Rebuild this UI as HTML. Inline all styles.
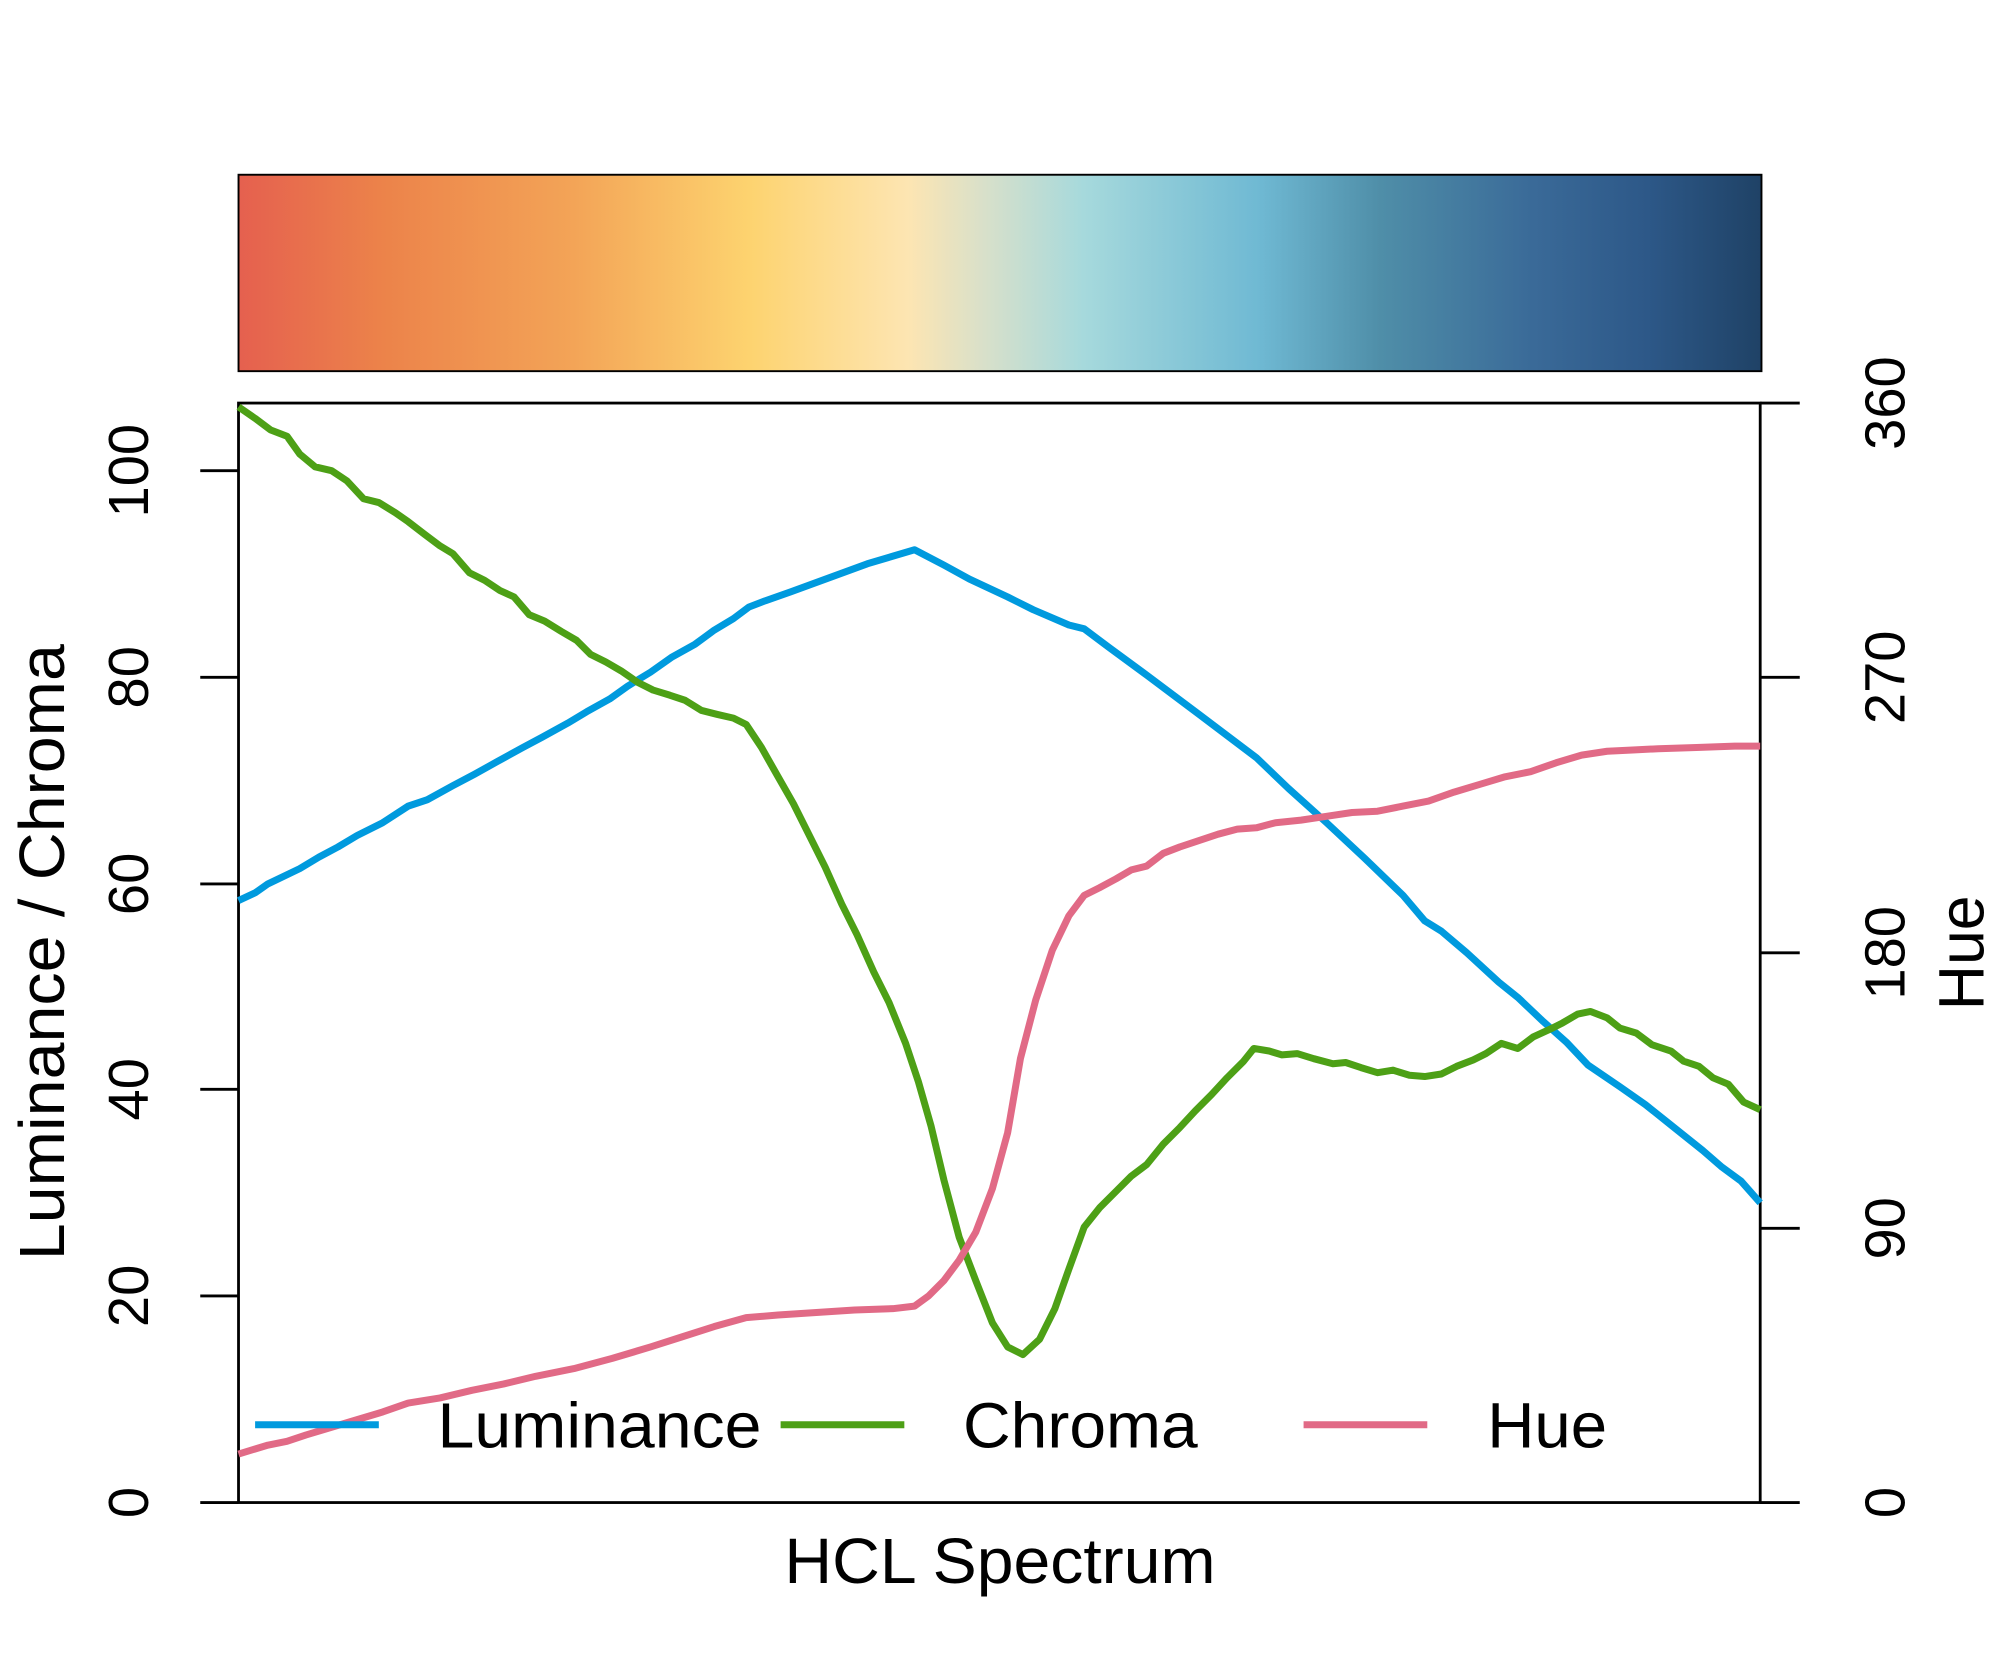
<!DOCTYPE html>
<html><head><meta charset="utf-8"><style>html,body{margin:0;padding:0;background:#fff}svg{display:block}</style></head>
<body>
<svg width="2000" height="1680" viewBox="0 0 1568 1317.12" xmlns="http://www.w3.org/2000/svg" font-family="Liberation Sans, sans-serif">
<defs>
<linearGradient id="g" x1="0" x2="1" y1="0" y2="0">
<stop offset="0" stop-color="#E5604F"/>
<stop offset="0.095" stop-color="#EC834A"/>
<stop offset="0.22" stop-color="#F3A457"/>
<stop offset="0.335" stop-color="#FDD36F"/>
<stop offset="0.44" stop-color="#FDE5B2"/>
<stop offset="0.49" stop-color="#D8E0CA"/>
<stop offset="0.555" stop-color="#A6D9DC"/>
<stop offset="0.67" stop-color="#6FB9D3"/>
<stop offset="0.75" stop-color="#4F8EA8"/>
<stop offset="0.85" stop-color="#3A6A98"/>
<stop offset="0.925" stop-color="#2D5888"/>
<stop offset="1" stop-color="#1F4266"/>
</linearGradient>
</defs>
<rect x="187" y="137" width="1194" height="154" fill="url(#g)" stroke="#000" stroke-width="1.5"/>
<rect x="187" y="316" width="1193" height="862" fill="none" stroke="#000" stroke-width="2.2"/>
<g stroke="#000" stroke-width="2.2">
<line x1="157" y1="1178" x2="187" y2="1178"/><line x1="157" y1="1016" x2="187" y2="1016"/><line x1="157" y1="854" x2="187" y2="854"/><line x1="157" y1="693" x2="187" y2="693"/><line x1="157" y1="531" x2="187" y2="531"/><line x1="157" y1="369" x2="187" y2="369"/>
<line x1="1380" y1="1178" x2="1411" y2="1178"/><line x1="1380" y1="963" x2="1411" y2="963"/><line x1="1380" y1="747" x2="1411" y2="747"/><line x1="1380" y1="531" x2="1411" y2="531"/><line x1="1380" y1="316" x2="1411" y2="316"/>
</g>
<g font-size="44" text-anchor="middle" fill="#000">
<text transform="translate(116,1178) rotate(-90)">0</text>
<text transform="translate(116,1016) rotate(-90)">20</text>
<text transform="translate(116,854) rotate(-90)">40</text>
<text transform="translate(116,693) rotate(-90)">60</text>
<text transform="translate(116,531) rotate(-90)">80</text>
<text transform="translate(116,369) rotate(-90)">100</text>
<text transform="translate(1493,1178) rotate(-90)">0</text>
<text transform="translate(1493,963) rotate(-90)">90</text>
<text transform="translate(1493,747) rotate(-90)">180</text>
<text transform="translate(1493,531) rotate(-90)">270</text>
<text transform="translate(1493,316) rotate(-90)">360</text>
</g>
<g font-size="50" fill="#000">
<text transform="translate(50,988) rotate(-90)" textLength="483" lengthAdjust="spacingAndGlyphs">Luminance / Chroma</text>
<text transform="translate(1555,792) rotate(-90)" textLength="90" lengthAdjust="spacingAndGlyphs">Hue</text>
<text x="615" y="1241" textLength="338" lengthAdjust="spacingAndGlyphs">HCL Spectrum</text>
<text x="343" y="1135" textLength="254" lengthAdjust="spacingAndGlyphs">Luminance</text>
<text x="755" y="1135" textLength="184" lengthAdjust="spacingAndGlyphs">Chroma</text>
<text x="1166" y="1135" textLength="94" lengthAdjust="spacingAndGlyphs">Hue</text>
</g>
<g fill="none" stroke-width="5.5" stroke-linejoin="round">
<polyline stroke="#009ADE" points="187,706 200,700 210,693 235,681 250,672 265,664 280,655 300,645 320,632 335,627 355,616 372,607 390,597 410,586 425,578 445,567 460,558 478,548 492,538 510,527 527,515 545,505 560,494 575,485 587,476 600,471 620,464 650,453 680,442 717,431 740,443 760,454 790,468 810,478 838,490 850,493 870,508 900,530 940,560 985,594 1010,618 1040,645 1070,673 1100,702 1117,722 1130,730 1150,747 1175,770 1190,782 1210,801 1228,817 1245,835 1270,852 1290,866 1310,882 1335,902 1350,915 1365,926 1380,943"/>
<polyline stroke="#4DA016" points="187,319 200,328 212,337 225,342 235,356 247,366 260,369 272,377 285,391 297,394 310,402 320,409 333,419 345,428 355,434 368,449 380,455 392,463 403,468 415,482 427,487 440,495 452,502 463,513 475,519 487,526 500,535 512,541 525,545 537,549 550,557 562,560 575,563 585,568 597,586 610,609 622,630 635,656 647,680 660,709 672,733 685,762 697,786 710,818 720,848 730,883 740,925 752,970 765,1004 778,1037 790,1056 802,1062 815,1050 827,1026 838,995 850,962 862,947 875,934 887,922 899,913 912,897 925,884 937,871 950,858 962,845 975,832 983,822 995,824 1005,827 1017,826 1030,830 1045,834 1055,833 1067,837 1080,841 1092,839 1105,843 1117,844 1130,842 1142,836 1155,831 1165,826 1177,818 1190,822 1202,813 1215,807 1225,802 1237,795 1247,793 1260,798 1270,806 1283,810 1295,819 1310,824 1320,832 1332,836 1343,845 1355,850 1367,864 1380,870"/>
<polyline stroke="#E16A86" points="187,1140 200,1136 210,1133 225,1130 240,1125 260,1119 280,1113 300,1107 320,1100 345,1096 370,1090 395,1085 420,1079 450,1073 480,1065 510,1056 535,1048 560,1040 585,1033 610,1031 640,1029 670,1027 700,1026 717,1024 728,1016 740,1004 752,988 765,966 778,932 790,888 800,830 812,784 825,745 838,718 850,702 862,696 875,689 887,682 899,679 912,669 925,664 940,659 955,654 970,650 985,649 1000,645 1020,643 1040,640 1060,637 1080,636 1100,632 1120,628 1140,621 1160,615 1180,609 1200,605 1220,598 1240,592 1260,589 1280,588 1300,587 1330,586 1360,585 1380,585"/>
<line x1="200" y1="1117" x2="297" y2="1117" stroke="#009ADE"/>
<line x1="612" y1="1117" x2="709" y2="1117" stroke="#4DA016"/>
<line x1="1022" y1="1117" x2="1119" y2="1117" stroke="#E16A86"/>
</g>
</svg>
</body></html>
